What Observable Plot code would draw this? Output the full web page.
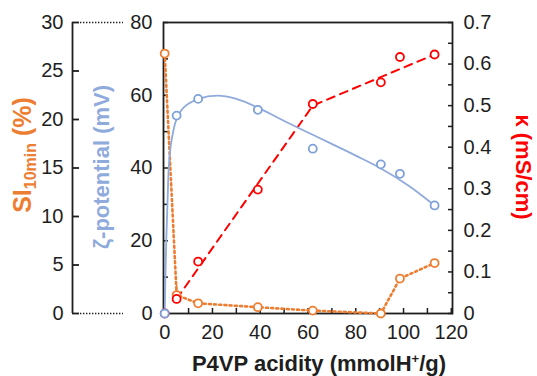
<!DOCTYPE html>
<html><head><meta charset="utf-8">
<script src="https://cdn.jsdelivr.net/npm/d3@7"></script>
<script src="https://cdn.jsdelivr.net/npm/@observablehq/plot@0.6"></script>
<style>
body{margin:0;background:#fff;}
#wrap{position:relative;width:537px;height:376px;}
#wrap svg{position:absolute;left:0;top:0;}
</style></head><body><div id="wrap"></div>
<script>
// ---- data ----
const acidity = [0, 5, 14, 39, 62, 90.5, 98.5, 113];
const zeta    = [0, 54.4, 59, 56, 45.3, 41, 38.4, 29.7];       // mV
const kappa   = [0, 0.035, 0.125, 0.298, 0.504, 0.556, 0.617, 0.623]; // mS/cm
const si      = [26.8, 1.9, 1.05, 0.65, 0.3, 0, 3.6, 5.2];     // %

// fitted curve (ζ-potential)
const zetaFitX = [0, 0.3, 0.7, 1.2, 1.7, 2.5, 3.4, 4.9, 7.9, 14.2, 22, 30, 39, 48, 56.7, 69.7, 80, 90.7, 102, 113];
const zetaFitY = [0, 10, 21, 31, 40, 46, 49.5, 53.3, 56.6, 59, 59.9, 59, 56.6, 53.6, 50.8, 46.7, 43.4, 39.8, 35.2, 29.7];
// piecewise linear fit (κ)
const kappaFitX = [5, 62, 113];
const kappaFitY = [0.035, 0.5, 0.623];
// error bar on SI at 5
const siErrX = [5], siErrLo = [1.0], siErrHi = [2.9];

const xTicks = [0, 20, 40, 60, 80, 100, 120];
const xMinor = [0, 10, 20, 30, 40, 50, 60, 70, 80, 90, 100, 110, 120];
const zetaTicks = [0, 20, 40, 60, 80];
const zetaMinor = [0, 10, 20, 30, 40, 50, 60, 70, 80];
const kappaTicks = [0, 0.1, 0.2, 0.3, 0.4, 0.5, 0.6, 0.7];
const kappaMinor = [0, 0.05, 0.1, 0.15, 0.2, 0.25, 0.3, 0.35, 0.4, 0.45, 0.5, 0.55, 0.6, 0.65, 0.7];
const siTicks = [0, 5, 10, 15, 20, 25, 30];

const zetaMax = 80, kappaMax = 0.7, siMax = 30;
const kToZ = v => v * zetaMax / kappaMax;
const sToZ = v => v * zetaMax / siMax;

const ORANGE = "#ED7D31", BLUE = "#8FAADC", BLUE_DOT = "#7EA1DA", RED = "#FF0000", INK = "#1e1e1e";
const FONT = "Liberation Sans, Arial, Helvetica, sans-serif";

const rows = acidity.map((x, i) => ({x, zeta: zeta[i], kappa: kToZ(kappa[i]), si: sToZ(si[i])}));
const zfit = zetaFitX.map((x, i) => ({x, y: zetaFitY[i]}));
const kfit = kappaFitX.map((x, i) => ({x, y: kToZ(kappaFitY[i])}));
const err = siErrX.map((x, i) => ({x, lo: sToZ(siErrLo[i]), hi: sToZ(siErrHi[i])}));

const W = 537, H = 376, MT = 22, MB = 63;

const main = Plot.plot({
  width: W, height: H, marginLeft: 163, marginRight: 85, marginTop: MT, marginBottom: MB,
  style: {fontFamily: FONT, fontSize: "20px", color: INK, background: "white"},
  x: {domain: [-0.5, 120.5]},
  y: {domain: [0, zetaMax]},
  marks: [
    Plot.axisX(xMinor, {tickSize: -5, fill: "none", strokeWidth: 1.5, label: null}),
    Plot.axisX(xTicks, {tickSize: 0, tickPadding: 11, label: null, fontSize: 20}),
    Plot.axisY(zetaMinor, {anchor: "left", tickSize: -5, fill: "none", strokeWidth: 1.5, label: null}),
    Plot.axisY(zetaTicks, {anchor: "left", tickSize: 0, tickPadding: 11, label: null, fontSize: 20}),
    Plot.axisY(kappaMinor.map(kToZ), {anchor: "right", tickSize: -5, fill: "none", strokeWidth: 1.5, label: null}),
    Plot.axisY(kappaTicks.map(kToZ), {anchor: "right", tickSize: 0, tickPadding: 11, label: null, fontSize: 20,
      tickFormat: d => { const v = d * kappaMax / zetaMax; return Math.abs(v) < 1e-9 ? "0" : v.toFixed(1); }}),
    Plot.frame({stroke: INK, strokeWidth: 1.8}),
    Plot.line(rows, {x: "x", y: "si", stroke: ORANGE, strokeWidth: 2.6, strokeDasharray: "2,3.2"}),
    Plot.ruleX(err, {x: "x", y1: "lo", y2: "hi", stroke: ORANGE, strokeWidth: 1.5}),
    Plot.line(kfit, {x: "x", y: "y", stroke: RED, strokeWidth: 2, strokeDasharray: "8,6"}),
    Plot.line(zfit, {x: "x", y: "y", stroke: BLUE, strokeWidth: 1.8, curve: "catmull-rom"}),
    Plot.dot(rows, {x: "x", y: "si", r: 4, stroke: ORANGE, strokeWidth: 1.8, fill: "white"}),
    Plot.dot(rows, {x: "x", y: "kappa", r: 4, stroke: RED, strokeWidth: 1.8, fill: "white"}),
    Plot.dot(rows, {x: "x", y: "zeta", r: 4, stroke: BLUE_DOT, strokeWidth: 1.8, fill: "white"})
  ]
});

const siAxis = Plot.plot({
  width: W, height: H, marginLeft: 72, marginRight: W - 163, marginTop: MT, marginBottom: MB,
  style: {fontFamily: FONT, fontSize: "20px", color: INK, background: "transparent"},
  x: {domain: [0, 1], axis: null},
  y: {domain: [0, siMax], axis: null},
  marks: [
    Plot.ruleX([0], {stroke: INK, strokeWidth: 1.8}),
    Plot.axisY(siTicks, {anchor: "left", tickSize: -7, fill: "none", strokeWidth: 1.8, label: null}),
    Plot.axisY(siTicks, {anchor: "left", tickSize: 0, tickPadding: 9, label: null, fontSize: 20}),
    Plot.ruleY([0, siMax], {insetLeft: 8, insetRight: 40, stroke: INK, strokeWidth: 1.6, strokeDasharray: "1.4,1.6"})
  ]
});

const wrap = document.getElementById("wrap");
wrap.appendChild(main);
wrap.appendChild(siAxis);

// axis titles
const svg = d3.select(siAxis);
const t1 = svg.append("text").attr("x", 319).attr("y", 371).attr("text-anchor", "middle")
  .attr("font-family", FONT).attr("font-size", 22).attr("font-weight", "bold").attr("fill", INK);
t1.append("tspan").text("P4VP acidity (mmolH");
t1.append("tspan").attr("dy", -8).attr("font-size", 13).text("+");
t1.append("tspan").attr("dy", 8).text("/g)");

const t2 = svg.append("text").attr("transform", "translate(31,155) rotate(-90)").attr("text-anchor", "middle")
  .attr("font-family", FONT).attr("font-size", 25).attr("font-weight", "bold").attr("fill", ORANGE);
t2.append("tspan").text("SI");
t2.append("tspan").attr("dy", 5).attr("font-size", 16).text("10min");
t2.append("tspan").attr("dy", -5).text(" (%)");

svg.append("text").attr("transform", "translate(109,167) rotate(-90)").attr("text-anchor", "middle")
  .attr("font-family", FONT).attr("font-size", 22).attr("font-weight", "bold").attr("fill", BLUE)
  .text("ζ-potential (mV)");

svg.append("text").attr("transform", "translate(516,167) rotate(90)").attr("text-anchor", "middle")
  .attr("font-family", FONT).attr("font-size", 22).attr("font-weight", "bold").attr("fill", RED)
  .text("κ (mS/cm)");
</script></body></html>
